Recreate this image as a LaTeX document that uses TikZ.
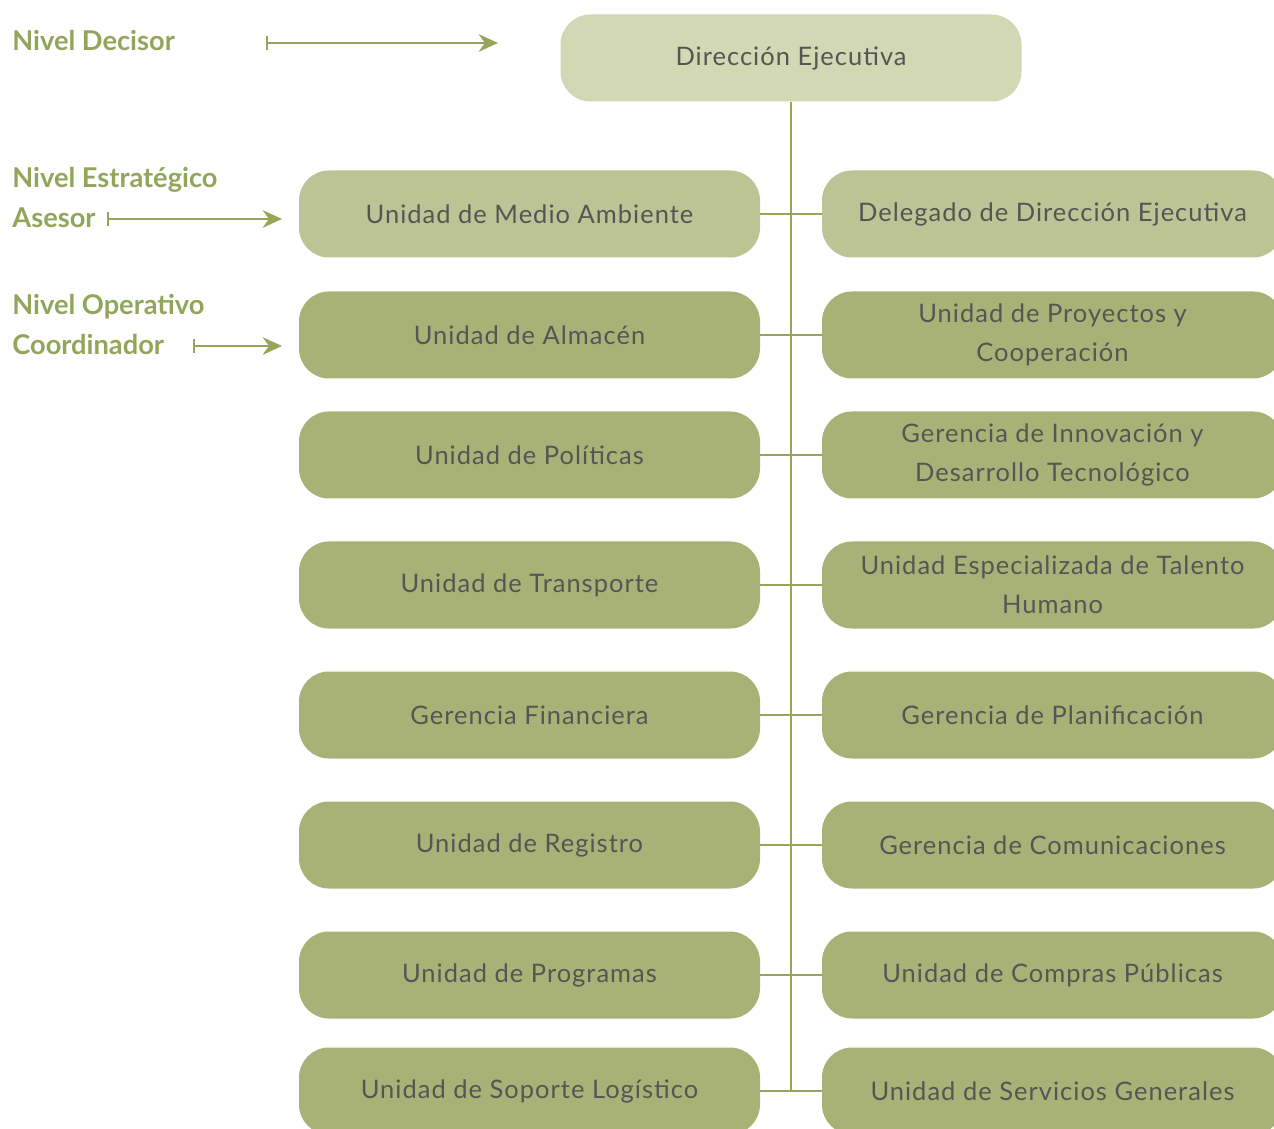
\documentclass[tikz,border=0pt]{standalone}
\usepackage{fontspec}
\setmainfont{Lato}
\newfontfamily\cajafont{Lato}[LetterSpace=4]
\usetikzlibrary{arrows.meta}
\definecolor{verdeA}{HTML}{D2D7B4}
\definecolor{verdeB}{HTML}{BCC495}
\definecolor{verdeC}{HTML}{A8B277}
\definecolor{linea}{HTML}{97A55A}
\definecolor{textoN}{HTML}{93A55A}
\definecolor{textoB}{HTML}{555553}
\tikzset{
    BX/.style ={rectangle,rounded corners=0.6cm,minimum width=9.22cm,minimum height=1.74cm,
        align=center,text=textoB,font=\cajafont\fontsize{14.5}{22}\selectfont},
    BX1/.style ={BX,fill=verdeA},
    BX2/.style ={BX,fill=verdeB},
    BX3/.style ={BX,fill=verdeC},
    NV/.style ={anchor=west,text=textoN,font=\bfseries\fontsize{15.5}{21}\selectfont,inner sep=0pt},
    FL/.style ={linea,line width=1.3pt,{Bar[width=8pt]}-{Stealth[length=11pt,width=10pt]}},
    LN/.style ={linea,line width=1.5pt}}

\begin{document}
\begin{tikzpicture}
        \clip (0,0) rectangle (25.48,-22.58);
        \node[BX1] (0) at(15.82,-1.16){Dirección Ejecutiva};
        \node[BX2] (1) at(10.59,-4.28){Unidad de Medio Ambiente};
        \node[BX2] (2) at(21.05,-4.28){Delegado de Dirección Ejecutiva};
        \node[BX3] (3) at(10.59,-6.70){Unidad de Almacén};
        \node[BX3] (4) at(21.05,-6.70){Unidad de Proyectos y\\Cooperación};
        \node[BX3] (5) at(10.59,-9.10){Unidad de Políticas};
        \node[BX3] (6) at(21.05,-9.10){Gerencia de Innovación y\\Desarrollo Tecnológico};
        \node[BX3] (7) at(10.59,-11.70){Unidad de Transporte};
        \node[BX3] (8) at(21.05,-11.70){Unidad Especializada de Talento\\Humano};
        \node[BX3] (9) at(10.59,-14.30){Gerencia Financiera};
        \node[BX3] (10) at(21.05,-14.30){Gerencia de Planificación};
        \node[BX3] (11) at(10.59,-16.90){Unidad de Registro};
        \node[BX3] (12) at(21.05,-16.90){Gerencia de Comunicaciones};
        \node[BX3] (13) at(10.59,-19.50){Unidad de Programas};
        \node[BX3] (14) at(21.05,-19.50){Unidad de Compras Públicas};
        \node[BX3] (15) at(10.59,-21.82){Unidad de Soporte Logístico};
        \node[BX3] (16) at(21.05,-21.82){Unidad de Servicios Generales};
        \coordinate (b) at(15.82,-21.79);
        \draw[LN] (0) --(b);
        \draw[LN] (1) --(2);
        \draw[LN] (3) --(4);
        \draw[LN] (5) --(6);
        \draw[LN] (7) --(8);
        \draw[LN] (9) --(10);
        \draw[LN] (11) --(12);
        \draw[LN] (13) --(14);
        \draw[LN] (15) --(16);
        % niveles
        \node[NV] (n1) at(0.24,-0.80){Nivel Decisor};
        \node[NV] (n2) at(0.24,-3.60){Nivel Estratégico};
        \node[NV] (n3) at(0.24,-4.36){Asesor};
        \node[NV] (n4) at(0.24,-6.14){Nivel Operativo};
        \node[NV] (n5) at(0.24,-6.88){Coordinador};
        \coordinate (f1a) at(5.32,-0.86);
        \coordinate (f1b) at(9.96,-0.86);
        \coordinate (f2a) at(2.14,-4.38);
        \coordinate (f2b) at(5.64,-4.38);
        \coordinate (f3a) at(3.86,-6.92);
        \coordinate (f3b) at(5.64,-6.92);
        \draw[FL] (f1a) --(f1b);
        \draw[FL] (f2a) --(f2b);
        \draw[FL] (f3a) --(f3b);
    \end{tikzpicture}
\end{document}
